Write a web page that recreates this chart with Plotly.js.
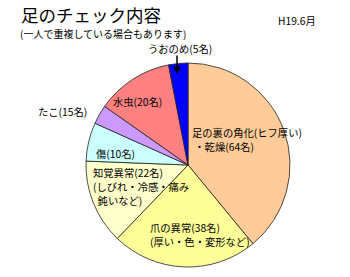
<!DOCTYPE html>
<html><head><meta charset="utf-8">
<script src="https://cdn.plot.ly/plotly-3.0.1.min.js"></script>
<style>html,body{margin:0;padding:0;background:#fff}#c{width:350px;height:277px}</style>
</head><body><div id="c"></div>
<script>
// Slice data (clockwise from 12 o'clock)
const categories = ["足の裏の角化・乾燥", "爪の異常", "知覚異常", "傷", "たこ", "水虫", "うおのめ"];
const values = [64, 38, 22, 10, 5, 20, 5];
const colors = ["#FFCC99", "#FFFF99", "#FFFFCC", "#CCFFFF", "#CC99FF", "#FF8080", "#0000FF"];
// Label lines as printed on the chart
const labelLines = [
  ["足の裏の角化(ヒフ厚い)", " ・乾燥(64名)"],
  ["爪の異常(38名)", "(厚い・色・変形など)"],
  ["知覚異常(22名)", "(しびれ・冷感・痛み", "  鈍いなど)"],
  ["傷(10名)"],
  ["たこ(15名)"],
  ["水虫(20名)"],
  ["うおのめ(5名)"]
];
const titleText = "足のチェック内容";
const subtitleText = "(一人で重複している場合もあります)";
const dateText = "H19.6月";

const W = 350, H = 277;
const px = x => x / W, py = y => 1 - y / H;
const font = {family: "Noto Sans CJK JP", size: 10.3, color: "#000"};
// label anchor positions (left edge, vertical center of first line) in pixels
const labelPos = [[191, 132], [149, 227], [92, 172], [95, 153], [37, 112], [112, 101], [147, 48.5]];
const lineGap = 14;

const annotations = [];
labelLines.forEach((lines, i) => {
  lines.forEach((t, j) => {
    annotations.push({
      text: t, xref: "paper", yref: "paper", x: px(labelPos[i][0]), y: py(labelPos[i][1] + j * lineGap),
      xanchor: "left", yanchor: "middle", align: "left", showarrow: false, font: font, borderpad: 0
    });
  });
});
annotations.push({text: titleText, xref: "paper", yref: "paper", x: px(20), y: py(14),
  xanchor: "left", yanchor: "middle", showarrow: false, borderpad: 0,
  font: {family: "Noto Sans CJK JP", size: 17.5, color: "#000"}});
annotations.push({text: subtitleText, xref: "paper", yref: "paper", x: px(19), y: py(34),
  xanchor: "left", yanchor: "middle", showarrow: false, borderpad: 0,
  font: {family: "Noto Sans CJK JP", size: 10, color: "#000"}});
annotations.push({text: dateText, xref: "paper", yref: "paper", x: px(276), y: py(20),
  xanchor: "left", yanchor: "middle", showarrow: false, font: font});
annotations.push({text: "", xref: "paper", yref: "paper", x: px(177), y: py(74),
  ax: 0, ay: -20, showarrow: true, arrowhead: 2, arrowsize: 1, arrowwidth: 1.5, arrowcolor: "#000"});

Plotly.newPlot("c", [{
  type: "pie", labels: categories, values: values, sort: false, direction: "clockwise",
  rotation: 0, textinfo: "none", hoverinfo: "none",
  marker: {colors: colors, line: {color: "#222", width: 0.8}},
  domain: {x: [px(86), px(290)], y: [py(267), py(63)]}
}], {
  width: W, height: H, margin: {l: 0, r: 0, t: 0, b: 0},
  paper_bgcolor: "#fff", showlegend: false, annotations: annotations
}, {staticPlot: true, displayModeBar: false});
</script></body></html>
